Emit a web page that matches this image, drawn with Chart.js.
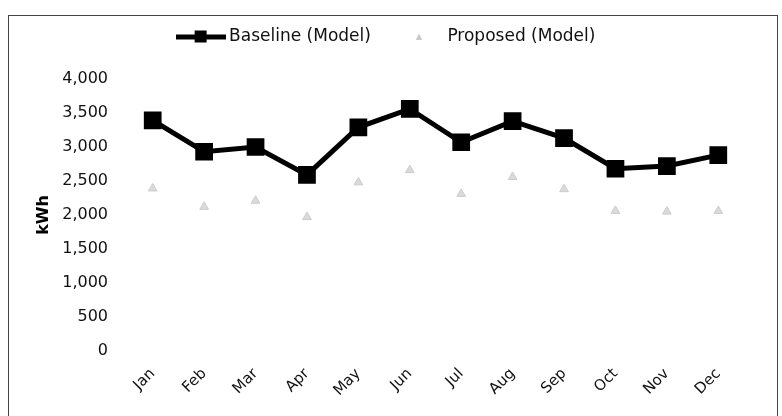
<!DOCTYPE html>
<html>
<head>
<meta charset="utf-8">
<script src="https://cdn.jsdelivr.net/npm/chart.js@4"></script>
<style>
    html, body { margin: 0; padding: 0; background: #fff; }
    #frame {
        position: absolute; left: 8px; top: 15px; width: 768px; height: 400px;
        border: 1px solid #444; border-bottom: none;
    }
</style>
</head>
<body>
<div id="frame"><canvas id="grafico" width="768" height="400"></canvas></div>
<script>
// dados
var meses = ["Jan", "Feb", "Mar", "Apr", "May", "Jun", "Jul", "Aug", "Sep", "Oct", "Nov", "Dec"];
var baseline = [3390, 2930, 3000, 2590, 3290, 3560, 3070, 3380, 3130, 2680, 2720, 2880];
var proposed = [2390, 2120, 2210, 1970, 2480, 2660, 2310, 2560, 2380, 2060, 2050, 2060];
var ticksY = [0, 500, 1000, 1500, 2000, 2500, 3000, 3500, 4000];

document.addEventListener("DOMContentLoaded", function () {
    var fonte = "'DejaVu Sans', Verdana, sans-serif";

    // ícones da legenda
    var iconeBase = document.createElement("canvas");
    iconeBase.width = 50; iconeBase.height = 16;
    var c1 = iconeBase.getContext("2d");
    c1.fillStyle = "#000";
    c1.fillRect(0, 6, 50, 5);
    c1.fillRect(19, 2, 12, 12);

    var iconeProp = document.createElement("canvas");
    iconeProp.width = 6; iconeProp.height = 6;
    var c2 = iconeProp.getContext("2d");
    c2.fillStyle = "#c8c8c8";
    c2.beginPath(); c2.moveTo(3, 0); c2.lineTo(6, 6); c2.lineTo(0, 6); c2.closePath(); c2.fill();

    // ajuste do espaço abaixo da legenda
    var legendaGap = {
        id: "legendaGap",
        beforeInit: function (chart) {
            var fit = chart.legend.fit;
            chart.legend.fit = function () {
                fit.bind(chart.legend)();
                this.height += 24;
            };
        }
    };

    new Chart(document.getElementById("grafico"), {
        type: "line",
        data: {
            labels: meses,
            datasets: [{
                label: "Baseline (Model)",
                data: baseline,
                borderColor: "#000",
                backgroundColor: "#000",
                borderWidth: 5,
                pointStyle: "rect",
                pointRadius: 9,
                pointBackgroundColor: "#000",
                pointBorderColor: "#000",
                tension: 0
            }, {
                label: "Proposed (Model)",
                data: proposed,
                borderColor: "rgba(0,0,0,0)",
                backgroundColor: "#d0d0d0",
                borderWidth: 0,
                pointStyle: "triangle",
                pointRadius: 5,
                pointBackgroundColor: "#dadada",
                pointBorderColor: "#cccccc",
                pointBorderWidth: 1
            }]
        },
        options: {
            responsive: false,
            animation: false,
            layout: { padding: { top: -16, left: 23, right: 33, bottom: 0 } },
            plugins: {
                tooltip: { enabled: false },
                legend: {
                    labels: {
                        usePointStyle: true,
                        pointStyleWidth: 40,
                        padding: 28,
                        color: "#111",
                        font: { family: fonte, size: 17 },
                        generateLabels: function (chart) {
                            var itens = Chart.defaults.plugins.legend.labels.generateLabels(chart);
                            itens[0].pointStyle = iconeBase;
                            itens[1].pointStyle = iconeProp;
                            return itens;
                        }
                    }
                }
            },
            scales: {
                x: {
                    offset: true,
                    grid: { display: false, drawTicks: false },
                    border: { display: false },
                    ticks: {
                        minRotation: 45, maxRotation: 45,
                        padding: 14,
                        color: "#111",
                        font: { family: fonte, size: 15 }
                    },
                    afterFit: function (scale) { scale.height = 65; }
                },
                y: {
                    min: 0, max: 4000,
                    grid: { display: false, drawTicks: false },
                    border: { display: false },
                    afterBuildTicks: function (scale) {
                        scale.ticks = ticksY.map(function (v) { return { value: v }; });
                    },
                    ticks: {
                        padding: 19,
                        color: "#111",
                        font: { family: fonte, size: 16 },
                        callback: function (v) { return v.toLocaleString("en-US"); }
                    },
                    title: {
                        display: true,
                        text: "kWh",
                        color: "#000",
                        padding: { top: 2, bottom: 0 },
                        font: { family: fonte, size: 16, weight: "bold" }
                    },
                    afterFit: function (scale) { scale.width = 95; }
                }
            }
        },
        plugins: [legendaGap]
    });
});
</script>
</body>
</html>
